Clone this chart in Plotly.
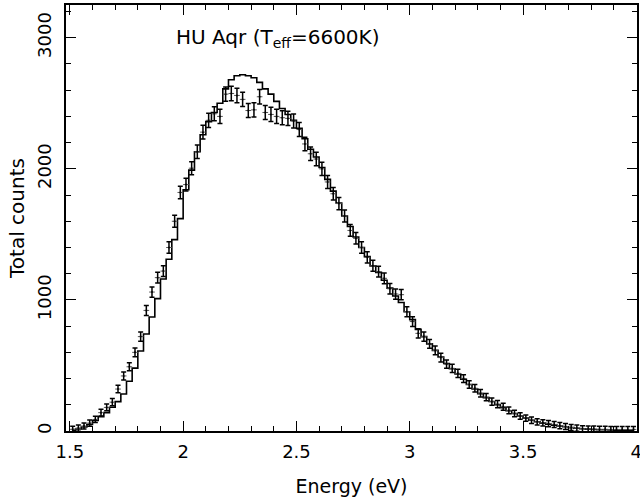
import plotly.graph_objects as go

# Bin centres (eV)
energy_ev = [
    1.5125, 1.5375, 1.5625, 1.5875, 1.6125, 1.6375, 1.6625, 1.6875, 1.7125, 1.7375,
    1.7625, 1.7875, 1.8125, 1.8375, 1.8625, 1.8875, 1.9125, 1.9375, 1.9625, 1.9875,
    2.0125, 2.0375, 2.0625, 2.0875, 2.1125, 2.1375, 2.1625, 2.1875, 2.2125, 2.2375,
    2.2625, 2.2875, 2.3125, 2.3375, 2.3625, 2.3875, 2.4125, 2.4375, 2.4625, 2.4875,
    2.5125, 2.5375, 2.5625, 2.5875, 2.6125, 2.6375, 2.6625, 2.6875, 2.7125, 2.7375,
    2.7625, 2.7875, 2.8125, 2.8375, 2.8625, 2.8875, 2.9125, 2.9375, 2.9625, 2.9875,
    3.0125, 3.0375, 3.0625, 3.0875, 3.1125, 3.1375, 3.1625, 3.1875, 3.2125, 3.2375,
    3.2625, 3.2875, 3.3125, 3.3375, 3.3625, 3.3875, 3.4125, 3.4375, 3.4625, 3.4875,
    3.5125, 3.5375, 3.5625, 3.5875, 3.6125, 3.6375, 3.6625, 3.6875, 3.7125, 3.7375,
    3.7625, 3.7875, 3.8125, 3.8375, 3.8625, 3.8875, 3.9125, 3.9375, 3.9625, 3.9875,
]
bin_half_width = 0.0125

observed_counts = [
    13, 22, 38, 60, 88, 140, 180, 220, 320, 420,
    490, 600, 720, 920, 1060, 1170, 1220, 1400, 1600, 1820,
    1880, 2005, 2130, 2280, 2370, 2420, 2400, 2570, 2575, 2560,
    2530, 2445, 2450, 2550, 2430, 2415, 2400, 2390, 2385, 2365,
    2300, 2190, 2115, 2075, 2000, 1900, 1810, 1735, 1640, 1530,
    1470, 1400, 1325, 1260, 1215, 1165, 1085, 1045, 1040, 910,
    835, 745, 720, 665, 615, 560, 510, 478, 440, 400,
    355, 326, 288, 258, 224, 205, 185, 158, 133, 115,
    98, 82, 70, 62, 57, 50, 41, 34, 27, 22,
    18, 15, 15, 13, 13, 12, 12, 12, 12, 12,
]

count_errors = [
    23, 23, 23, 24, 24, 25, 26, 27, 29, 30,
    31, 33, 35, 38, 39, 41, 41, 44, 46, 48,
    49, 50, 51, 53, 54, 54, 54, 55, 55, 55,
    55, 54, 54, 55, 54, 54, 54, 54, 54, 54,
    53, 52, 51, 51, 50, 49, 48, 47, 46, 45,
    44, 44, 43, 42, 41, 41, 40, 39, 39, 38,
    37, 35, 35, 34, 33, 33, 32, 31, 31, 30,
    29, 29, 28, 28, 27, 27, 26, 26, 25, 25,
    24, 24, 24, 24, 24, 23, 23, 23, 23, 23,
    23, 23, 23, 23, 23, 22, 22, 22, 22, 22,
]

model_counts = [
    5, 15, 30, 50, 80, 110, 140, 181, 224, 282,
    380, 480, 610, 740, 870, 1010, 1160, 1310, 1460, 1620,
    1840, 1990, 2130, 2260, 2360, 2430, 2500, 2610, 2680, 2710,
    2718, 2710, 2695, 2660, 2610, 2570, 2515, 2460, 2415, 2370,
    2310, 2230, 2150, 2090, 2010, 1920, 1830, 1740, 1640, 1560,
    1480, 1400, 1330, 1260, 1210, 1150, 1090, 1030, 980, 910,
    850, 775, 720, 665, 615, 565, 515, 475, 435, 395,
    355, 320, 285, 255, 225, 200, 178, 155, 133, 115,
    98, 82, 70, 60, 52, 45, 38, 32, 26, 21,
    17, 14, 12, 10, 9, 8, 7, 6, 6, 5,
]

title_text = "HU Aqr (T<sub>eff</sub>=6600K)"
x_label = "Energy (eV)"
y_label = "Total counts"

FONT = "DejaVu Sans, Liberation Sans, sans-serif"

fig = go.Figure()
fig.add_trace(go.Scatter(
    x=energy_ev, y=model_counts, mode="lines",
    line=dict(color="black", width=1.6, shape="hvh"),
    showlegend=False, hoverinfo="skip",
))
fig.add_trace(go.Scatter(
    x=energy_ev, y=observed_counts, mode="markers",
    marker=dict(size=2, color="black"),
    error_y=dict(type="data", array=count_errors, color="black", thickness=1.5, width=2.5),
    error_x=dict(type="constant", value=bin_half_width, color="#555555", thickness=1, width=0),
    showlegend=False,
))

axis_common = dict(
    showline=True, linecolor="black", linewidth=1.5, mirror="ticks",
    ticks="inside", ticklen=10, tickwidth=1.3, tickcolor="black",
    showgrid=False, zeroline=False, automargin=False,
    ticklabeloverflow="allow",
    tickfont=dict(family=FONT, size=18, color="black"),
)

fig.update_layout(
    width=640, height=500,
    margin=dict(l=66, r=3, t=5, b=69),
    paper_bgcolor="white", plot_bgcolor="white",
    font=dict(family=FONT, size=18, color="black"),
    xaxis=dict(
        range=[1.483, 4.003], tickmode="linear", tick0=1.5, dtick=0.5,
        minor=dict(dtick=0.1, ticks="inside", ticklen=5, tickwidth=1.2, tickcolor="black", showgrid=False),
        title=dict(text=x_label, standoff=18, font=dict(family=FONT, size=19)),
        ticklabelstandoff=4,
        **axis_common,
    ),
    yaxis=dict(
        range=[0, 3250], tickmode="linear", tick0=0, dtick=1000, tickangle=-90,
        minor=dict(dtick=200, ticks="inside", ticklen=5, tickwidth=1.2, tickcolor="black", showgrid=False),
        title=dict(text=y_label, standoff=4, font=dict(family=FONT, size=20)),
        ticklabelstandoff=6,
        **axis_common,
    ),
    annotations=[dict(
        x=2.42, y=3000, xref="x", yref="y", text=title_text, showarrow=False,
        font=dict(family=FONT, size=20, color="black"),
    )],
)

fig.write_html(
    "out.html",
    config={"displayModeBar": False},
    post_script="document.body.style.margin='0';document.body.style.overflow='hidden';",
)
